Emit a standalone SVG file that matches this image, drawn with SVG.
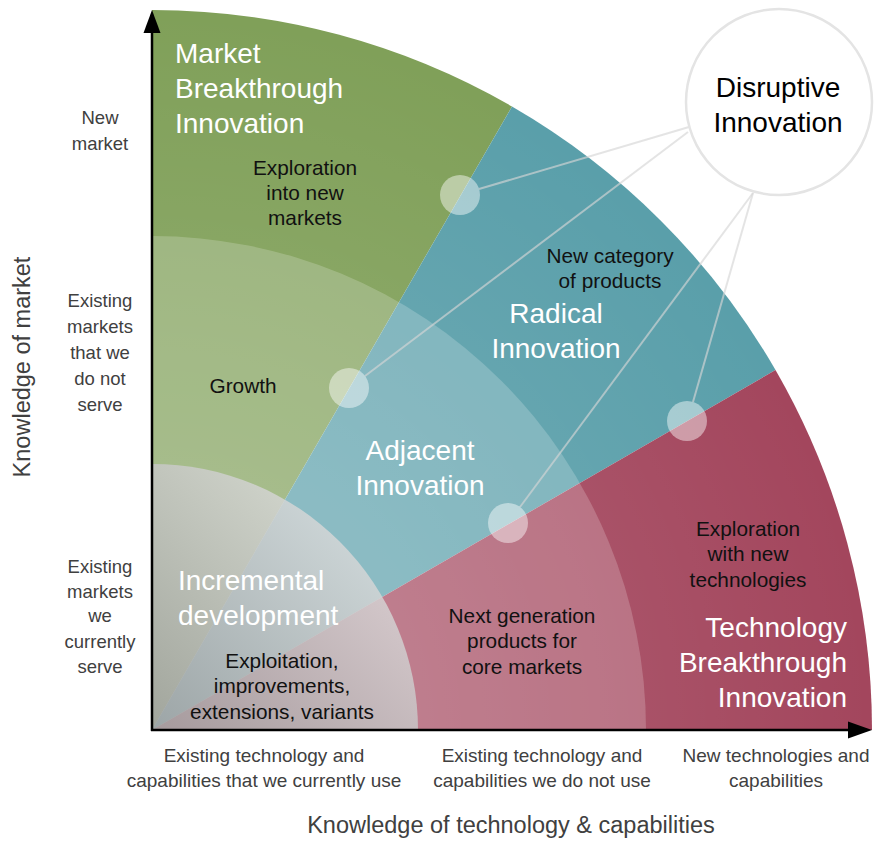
<svg xmlns="http://www.w3.org/2000/svg" width="875" height="841" viewBox="0 0 875 841">
<style>
text{font-family:"Liberation Sans",Arial,Helvetica,sans-serif}
.big{font-size:28px;fill:#ffffff}
.blk{font-size:20.8px;fill:#111111;text-anchor:middle}
.axl{font-size:18.5px;fill:#404040;text-anchor:middle}
.bot{font-size:19px;fill:#404040;text-anchor:middle}
.ttl{font-size:23.5px;fill:#404040;text-anchor:middle}
.mid{text-anchor:middle}
.dot{fill:#ffffff;fill-opacity:0.45}
.con{stroke:#d6d6d6;stroke-opacity:0.65;stroke-width:2;fill:none}
</style>
<defs>
<radialGradient id="shade" gradientUnits="userSpaceOnUse" cx="152" cy="730" r="720">
<stop offset="0.3" stop-color="#ffffff" stop-opacity="0.14"/>
<stop offset="1" stop-color="#ffffff" stop-opacity="0"/>
</radialGradient>
<linearGradient id="grey" gradientUnits="userSpaceOnUse" x1="152" y1="730" x2="340" y2="540">
<stop offset="0" stop-color="#a0a0a0"/>
<stop offset="1" stop-color="#d8d8d8"/>
</linearGradient>
</defs>
<rect width="875" height="841" fill="#ffffff"/>

<g id="sectors">
<path d="M152,730 L152,10 A720,720 0 0 1 512,106.5 Z" fill="#80a059"/>
<path d="M152,730 L512,106.5 A720,720 0 0 1 775.5,370 Z" fill="#5a9faa"/>
<path d="M152,730 L775.5,370 A720,720 0 0 1 872,730 Z" fill="#a3465d"/>
<path d="M152,730 L152,10 A720,720 0 0 1 872,730 Z" fill="url(#shade)"/>
<path d="M152,730 L152,236 A494,494 0 0 1 646,730 Z" fill="#ffffff" fill-opacity="0.2"/>
<path d="M152,730 L152,464 A266,266 0 0 1 418,730 Z" fill="url(#grey)" fill-opacity="0.82"/>
</g>

<g id="connectors">
<line class="con" x1="479" y1="189" x2="689" y2="127"/>
<line class="con" x1="365" y1="376" x2="688" y2="132"/>
<line class="con" x1="520" y1="507" x2="753" y2="193"/>
<line class="con" x1="693" y1="402" x2="753" y2="193"/>
</g>

<g id="dots">
<circle class="dot" cx="460" cy="195" r="20"/>
<circle class="dot" cx="349" cy="388" r="20"/>
<circle class="dot" cx="508" cy="523" r="20"/>
<circle class="dot" cx="687" cy="421" r="20"/>
</g>

<g id="axes">
<line x1="152" y1="731" x2="152" y2="30" stroke="#000" stroke-width="2.5"/>
<polygon points="152,10 143.5,33 160.5,33" fill="#000"/>
<line x1="151" y1="730" x2="852" y2="730" stroke="#000" stroke-width="2.5"/>
<polygon points="872,730 848,721.5 848,738.5" fill="#000"/>
</g>

<g id="disruptive">
<circle cx="779" cy="102" r="93" fill="#ffffff" stroke="#e4e4e4" stroke-width="2.5"/>
<text class="mid" x="778" y="97" font-size="28" fill="#000">Disruptive</text>
<text class="mid" x="778" y="132" font-size="28" fill="#000">Innovation</text>
</g>

<g id="market-breakthrough">
<text class="big" x="175" y="63">Market</text>
<text class="big" x="175" y="98">Breakthrough</text>
<text class="big" x="175" y="133">Innovation</text>
<text class="blk" x="305" y="175">Exploration</text>
<text class="blk" x="305" y="200">into new</text>
<text class="blk" x="305" y="225">markets</text>
</g>

<g id="radical">
<text class="blk" x="610" y="263">New category</text>
<text class="blk" x="610" y="288">of products</text>
<text class="big mid" x="556" y="323">Radical</text>
<text class="big mid" x="556" y="358">Innovation</text>
</g>

<g id="adjacent">
<text class="blk" x="243" y="393">Growth</text>
<text class="big mid" x="420" y="460">Adjacent</text>
<text class="big mid" x="420" y="495">Innovation</text>
</g>

<g id="incremental">
<text class="big" x="178" y="590">Incremental</text>
<text class="big" x="178" y="625">development</text>
<text class="blk" x="282" y="668">Exploitation,</text>
<text class="blk" x="282" y="693">improvements,</text>
<text class="blk" x="282" y="719">extensions, variants</text>
</g>

<g id="technology-breakthrough">
<text class="blk" x="522" y="623">Next generation</text>
<text class="blk" x="522" y="648">products for</text>
<text class="blk" x="522" y="674">core markets</text>
<text class="blk" x="748" y="536">Exploration</text>
<text class="blk" x="748" y="561">with new</text>
<text class="blk" x="748" y="587">technologies</text>
<text class="big" x="847" y="637" text-anchor="end">Technology</text>
<text class="big" x="847" y="672" text-anchor="end">Breakthrough</text>
<text class="big" x="847" y="707" text-anchor="end">Innovation</text>
</g>

<g id="y-labels">
<text class="ttl" transform="translate(30,367) rotate(-90)">Knowledge of market</text>
<text class="axl" x="100" y="124">New</text>
<text class="axl" x="100" y="150">market</text>
<text class="axl" x="100" y="307">Existing</text>
<text class="axl" x="100" y="333">markets</text>
<text class="axl" x="100" y="359">that we</text>
<text class="axl" x="100" y="385">do not</text>
<text class="axl" x="100" y="411">serve</text>
<text class="axl" x="100" y="573">Existing</text>
<text class="axl" x="100" y="598">markets</text>
<text class="axl" x="100" y="622">we</text>
<text class="axl" x="100" y="648">currently</text>
<text class="axl" x="100" y="673">serve</text>
</g>

<g id="x-labels">
<text class="bot" x="264" y="762">Existing technology and</text>
<text class="bot" x="264" y="787">capabilities that we currently use</text>
<text class="bot" x="542" y="762">Existing technology and</text>
<text class="bot" x="542" y="787">capabilities we do not use</text>
<text class="bot" x="776" y="762">New technologies and</text>
<text class="bot" x="776" y="787">capabilities</text>
<text class="ttl" x="511" y="833">Knowledge of technology &amp; capabilities</text>
</g>
</svg>
